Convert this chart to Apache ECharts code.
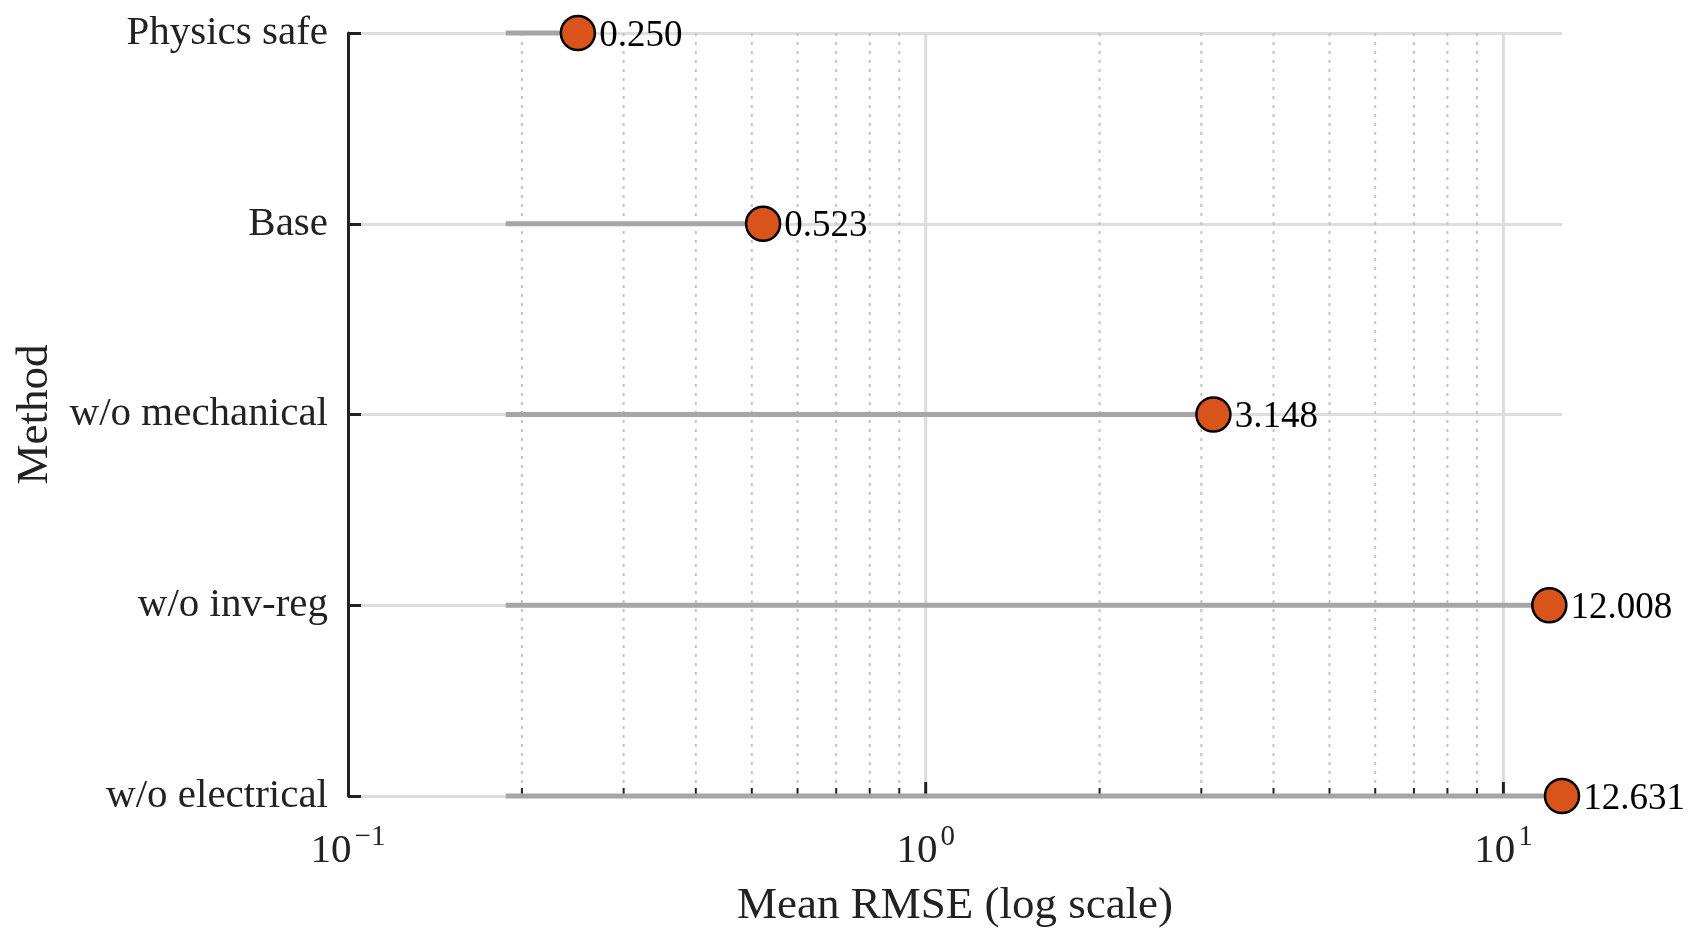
<!DOCTYPE html>
<html>
<head>
<meta charset="utf-8">
<script src="https://cdn.jsdelivr.net/npm/echarts@6/dist/echarts.min.js"></script>
<style>
  html, body { margin: 0; padding: 0; background: #fff; }
  #chart { width: 1695px; height: 942px; }
</style>
</head>
<body>
<div id="chart"></div>
<script>
// data
var methods = ['Physics safe', 'Base', 'w/o mechanical', 'w/o inv-reg', 'w/o electrical'];
var rmse = [0.250, 0.523, 3.148, 12.008, 12.631];
var labelTicks = [0.1, 1, 10];
var majorTicks = [1, 10];
var minorTicks = [0.2, 0.3, 0.4, 0.5, 0.6, 0.7, 0.8, 0.9, 2, 3, 4, 5, 6, 7, 8, 9];

var FONT = '"Liberation Serif", "Times New Roman", serif';
var TEXT = '#222222';
var stemStart = Math.min.apply(null, rmse) * 0.75;
var xMax = Math.max.apply(null, rmse);

var myChart = echarts.init(document.getElementById('chart'));

var measureCtx = document.createElement('canvas').getContext('2d');
function textWidth(str, size) {
    measureCtx.font = size + 'px ' + FONT;
    return measureCtx.measureText(str).width;
}

// vertical grid lines (major solid, minor dotted) plus the x ticks
function gridItem(params, api) {
    var cs = params.coordSys;
    var v = api.value(0);
    var minor = api.value(1) === 1;
    var x = api.coord([v, 0])[0];
    var top = cs.y, bottom = cs.y + cs.height;
    var len = minor ? 8 : 14;
    return {
        type: 'group',
        children: [{
            type: 'line',
            shape: { x1: x, y1: top, x2: x, y2: bottom - len },
            style: minor
                ? { stroke: '#c4c4c4', lineWidth: 2, lineDash: [3, 6] }
                : { stroke: '#dcdcdc', lineWidth: 3 }
        }, {
            type: 'line',
            shape: { x1: x, y1: bottom, x2: x, y2: bottom - len },
            style: { stroke: TEXT, lineWidth: minor ? 2 : 3 }
        }]
    };
}

// 10^n tick labels with a raised exponent
function tickLabelItem(params, api) {
    var cs = params.coordSys;
    var v = api.value(0);
    var x = api.coord([v, 0])[0];
    var bottom = cs.y + cs.height;
    var e = Math.round(Math.log10(v));
    var expStr = e < 0 ? '\u2212' + (-e) : String(e);
    var wBase = textWidth('10', 41);
    var wExp = textWidth(expStr, 29);
    var gap = 3;
    var left = x - (wBase + gap + wExp) / 2;
    return {
        type: 'group',
        children: [{
            type: 'text',
            x: left, y: bottom + 55,
            style: { text: '10', fontSize: 41, fontFamily: FONT, fill: TEXT, align: 'left', verticalAlign: 'middle' }
        }, {
            type: 'text',
            x: left + wBase + gap, y: bottom + 41,
            style: { text: expStr, fontSize: 29, fontFamily: FONT, fill: TEXT, align: 'left', verticalAlign: 'middle' }
        }]
    };
}

function stemItem(params, api) {
    var a = api.coord([stemStart, api.value(1)]);
    var b = api.coord([api.value(0), api.value(1)]);
    return {
        type: 'line',
        shape: { x1: a[0], y1: a[1], x2: b[0], y2: b[1] },
        style: { stroke: '#a6a6a6', lineWidth: 5 }
    };
}

var gridData = majorTicks.map(function (v) { return [v, 0]; })
    .concat(minorTicks.map(function (v) { return [v, 1]; }));

var option = {
    backgroundColor: '#ffffff',
    animation: false,
    grid: { left: 348, right: 133, top: 33, bottom: 146, containLabel: false },
    xAxis: {
        type: 'log',
        logBase: 10,
        min: 0.1,
        max: xMax,
        name: 'Mean RMSE (log scale)',
        nameLocation: 'middle',
        nameGap: 88,
        nameTextStyle: { fontFamily: FONT, fontSize: 45, color: TEXT },
        axisLine: { lineStyle: { color: TEXT, width: 3 } },
        axisTick: { show: false },
        splitLine: { show: false },
        minorTick: { show: false },
        axisLabel: { show: false }
    },
    yAxis: {
        type: 'category',
        data: methods,
        inverse: true,
        boundaryGap: false,
        name: 'Method',
        nameLocation: 'middle',
        nameRotate: 90,
        nameGap: 290,
        nameTextStyle: { fontFamily: FONT, fontSize: 45, color: TEXT },
        axisLine: { lineStyle: { color: TEXT, width: 3 } },
        axisTick: { show: true, inside: true, length: 13, lineStyle: { color: TEXT, width: 3 } },
        axisLabel: { fontFamily: FONT, fontSize: 41, color: TEXT, margin: 20, padding: [6, 0, 0, 0] },
        splitLine: { show: true, lineStyle: { color: '#dedede', width: 3 } }
    },
    series: [
        {
            type: 'custom',
            z: 1,
            silent: true,
            renderItem: gridItem,
            data: gridData
        },
        {
            type: 'custom',
            z: 1,
            silent: true,
            clip: false,
            renderItem: tickLabelItem,
            data: labelTicks.map(function (v) { return [v, 0]; })
        },
        {
            type: 'custom',
            z: 2,
            silent: true,
            renderItem: stemItem,
            data: rmse.map(function (v, i) { return [v, i]; })
        },
        {
            type: 'scatter',
            z: 3,
            clip: false,
            symbol: 'circle',
            symbolSize: 34,
            itemStyle: { color: '#d9541a', borderColor: '#000000', borderWidth: 2.5, opacity: 1 },
            label: {
                show: true,
                position: 'right',
                distance: 3,
                offset: [0, 3],
                fontFamily: FONT,
                fontSize: 37,
                color: '#000000',
                formatter: function (p) { return p.value[0].toFixed(3); }
            },
            data: rmse.map(function (v, i) { return [v, i]; })
        }
    ]
};

myChart.setOption(option);
window.addEventListener('resize', function () {
    myChart.resize();
});
</script>
</body>
</html>
